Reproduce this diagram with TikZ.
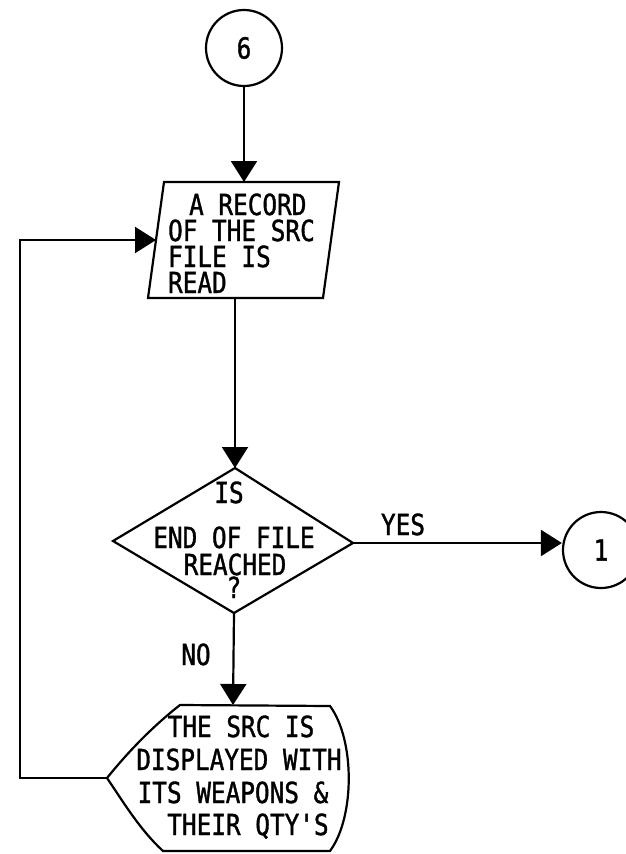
\documentclass[tikz,border=0pt]{standalone}
\usepackage{fontspec}
\usetikzlibrary{arrows.meta}
\newfontfamily\lett[FakeStretch=0.84,FakeBold=1.2,Ligatures=TeXOff]{DejaVu Sans Mono}
\begin{document}
\begin{tikzpicture}[x=1pt,y=-1pt,line width=2.2pt,
  lbl/.style={font=\lett\fontsize{29}{29}\selectfont,inner sep=0pt,text height=20pt,text depth=0pt},
  arr/.style={-{Triangle[length=21pt,width=26pt]}},
  conn/.style={circle,draw,minimum size=76pt,inner sep=0pt,font=\lett\fontsize{29}{29}\selectfont}]
\useasboundingbox (0,0) rectangle (625,854);
% connectors (circles)
\node[conn] (c6) at (244,48) {6};
\node[conn] (c1) at (601,550) {1};
% parallelogram
\coordinate (pTL) at (164,182);
\coordinate (pTR) at (339,182);
\coordinate (pBR) at (323,298);
\coordinate (pBL) at (148,298);
\draw (pTL) -- (pTR) -- (pBR) -- (pBL) -- cycle;
\coordinate (ptop) at (244,182);
\coordinate (pbot) at (235,298);
\coordinate (pleft) at (156,240);
\node[lbl,anchor=base west] (r1) at (188,215) {A RECORD};
\node[lbl,anchor=base west] (r2) at (167,241) {OF THE SRC};
\node[lbl,anchor=base west] (r3) at (167,267) {FILE IS};
\node[lbl,anchor=base west] (r4) at (167,293) {READ};
% decision
\coordinate (dT) at (235,468);
\coordinate (dR) at (353,543);
\coordinate (dB) at (234,613);
\coordinate (dL) at (113,541);
\draw (dT) -- (dR) -- (dB) -- (dL) -- cycle;
\node[lbl,anchor=base] (q1) at (229,503) {IS};
\node[lbl,anchor=base] (q2) at (234,548) {END OF FILE};
\node[lbl,anchor=base] (q3) at (235,575) {REACHED};
\node[lbl,anchor=base,text height=19pt] (q4) at (234,598) {?};
% display
\coordinate (sTL) at (180,705);
\coordinate (sTR) at (330,706);
\coordinate (sBR) at (330,851);
\coordinate (sBL) at (163,851);
\coordinate (sL) at (107,778);
\coordinate (stop) at (233,705);
\draw (sL) .. controls (128,752) and (152,727) .. (sTL) -- (sTR)
      .. controls (355,740) and (355,817) .. (sBR) -- (sBL)
      .. controls (140,830) and (122,800) .. (sL);
\node[lbl,anchor=base] (s1) at (241,737) {THE SRC IS};
\node[lbl,anchor=base] (s2) at (239,770) {DISPLAYED WITH};
\node[lbl,anchor=base] (s3) at (233,803) {ITS WEAPONS \&};
\node[lbl,anchor=base] (s4) at (248,835) {THEIR QTY'S};
% labels
\node[lbl,anchor=base] (yes) at (403,535) {YES};
\node[lbl,anchor=base] (no) at (196,665) {NO};
% arrows
\coordinate (loopx) at (20,0);
\draw[arr] (c6.south) -- (ptop);
\draw[arr] (pbot) -- (dT);
\draw[arr] (dR) -- (dR -| c1.west);
\draw[arr] (dB) -- (stop);
\draw[arr] (sL) -- (sL -| loopx) -- (pleft -| loopx) -- (pleft);
\end{tikzpicture}
\end{document}
